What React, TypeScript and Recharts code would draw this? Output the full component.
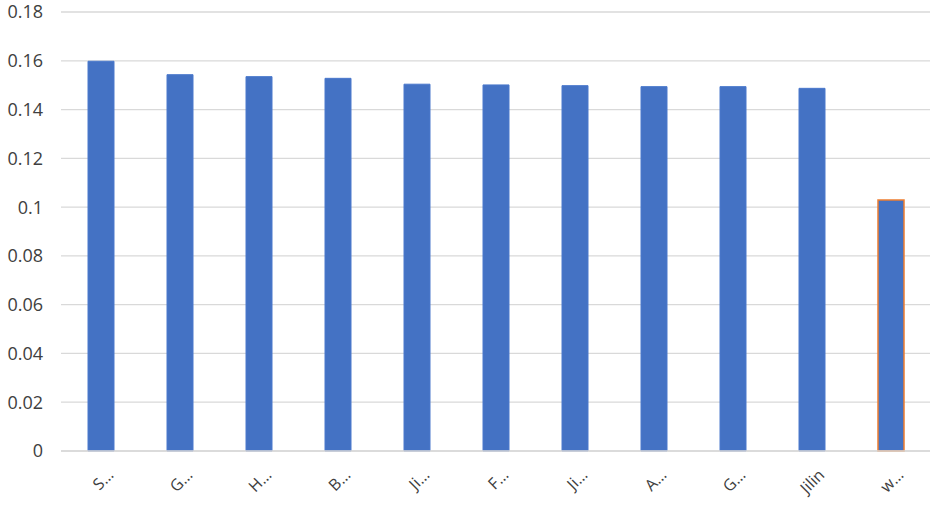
import React from "react";
import { BarChart, Bar, XAxis, YAxis, CartesianGrid, Cell } from "recharts";

const categories = ["S…", "G…", "H…", "B…", "Ji…", "F…", "Ji…", "A…", "G…", "Jilin", "w…"];
const values = [0.1598, 0.1543, 0.1535, 0.1528, 0.1504, 0.1501, 0.1498, 0.1494, 0.1494, 0.1487, 0.1029];
const yTicks = [0, 0.02, 0.04, 0.06, 0.08, 0.1, 0.12, 0.14, 0.16, 0.18];

const data = categories.map((c, i) => ({ key: `${c}-${i}`, name: c, value: values[i] }));

const XTick = (props: any) => {
  const { x, y, payload } = props;
  const label = categories[payload.index] ?? payload.value;
  return (
    <g transform={`translate(${x + 10},${y + 13})`}>
      <text
        x={0}
        y={0}
        textAnchor="end"
        transform="rotate(-45)"
        fill="#404040"
        fontSize={16}
        fontFamily="'Open Sans', sans-serif"
        dy="0.35em"
      >
        {label}
      </text>
    </g>
  );
};

export default function App() {
  return (
    <div style={{ position: "absolute", left: 0, top: 0, width: 935, height: 505, background: "#fff" }}>
      <BarChart
        width={935}
        height={505}
        data={data}
        margin={{ top: 12, right: 5, bottom: 0, left: 0 }}
        barCategoryGap="33%"
      >
        <CartesianGrid horizontal vertical={false} stroke="#d9d9d9" strokeWidth={1.3} />
        <XAxis
          dataKey="key"
          tickLine={false}
          axisLine={{ stroke: "#d9d9d9", strokeWidth: 1.3 }}
          tick={<XTick />}
          interval={0}
          height={54}
        />
        <YAxis
          domain={[0, 0.18]}
          ticks={yTicks}
          width={61}
          tickLine={false}
          axisLine={false}
          tickSize={0}
          tickMargin={18}
          tick={{ fill: "#404040", fontSize: 18, fontFamily: "'Open Sans', sans-serif" }}
          tickFormatter={(v: number) => String(Number(v.toFixed(2)))}
        />
        <Bar dataKey="value" barSize={26} isAnimationActive={false} fill="#4472C4">
          {data.map((d, i) => (
            <Cell
              key={d.key}
              fill="#4472C4"
              stroke={i === data.length - 1 ? "#ED7D31" : "#4a78cc"}
              strokeWidth={i === data.length - 1 ? 1.5 : 1}
            />
          ))}
        </Bar>
      </BarChart>
    </div>
  );
}
